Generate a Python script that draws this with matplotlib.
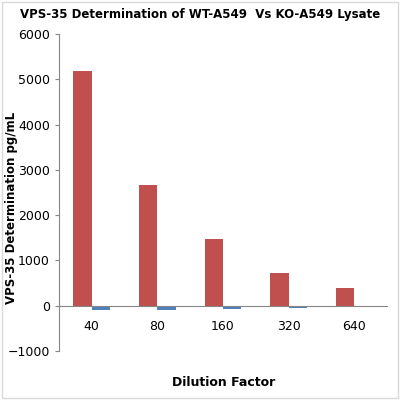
import matplotlib
matplotlib.use("Agg")
import matplotlib.pyplot as plt
import numpy as np

categories = ["40", "80", "160", "320", "640"]
wt = [5180, 2670, 1470, 720, 390]
ko = [-100, -90, -80, -60, -30]

fig = plt.figure(figsize=(4, 4), dpi=100)
fig.patches.append(plt.Rectangle((0.005, 0.005), 0.99, 0.99, transform=fig.transFigure,
                                 fill=False, edgecolor="#d9d9d9", lw=1))
ax = fig.add_axes([0.1475, 0.1225, 0.82, 0.7925])
x = np.arange(len(categories))
w = 0.28
ax.bar(x - 0.14, wt, w, color="#c0504d")
ax.bar(x + 0.14, ko, w, color="#4f81bd")
ax.set_ylim(-1000, 6000)
ax.set_xlim(-0.5, len(categories) - 0.5)
ax.set_yticks(range(-1000, 6001, 1000))
ax.set_xticks(x)
ax.set_xticklabels(categories)
ax.spines['bottom'].set_position(('data', 0))
ax.spines['bottom'].set_color("#868686")
ax.spines['left'].set_color("#868686")
for s in ['top', 'right']:
    ax.spines[s].set_visible(False)
ax.tick_params(axis='x', length=0, pad=10, labelsize=9)
ax.tick_params(axis='y', labelsize=9, length=3, color="#868686")
ax.set_ylabel("VPS-35 Determination pg/mL", fontsize=8.5, fontweight='bold')
ax.yaxis.set_label_coords(-0.125, 0.45)
fig.text(0.56, 0.035, "Dilution Factor", ha='center', fontsize=9, fontweight='bold')
fig.text(0.5, 0.955, "VPS-35 Determination of WT-A549  Vs KO-A549 Lysate", ha='center',
         fontsize=8.5, fontweight='bold')
fig.savefig("out.png", dpi=100)
